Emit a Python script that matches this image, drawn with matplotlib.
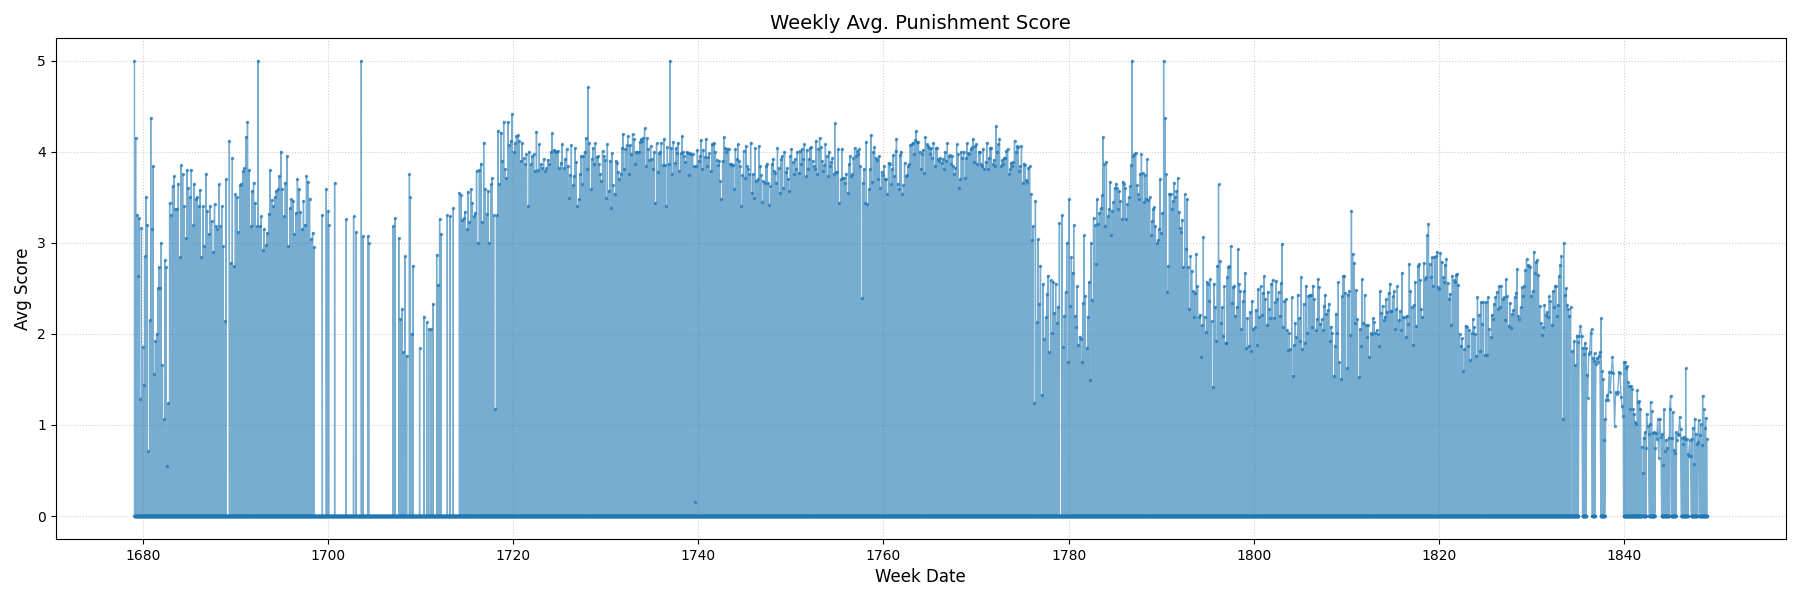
import numpy as np
import matplotlib.pyplot as plt

# dense session blocks: (first year, last year) and the weekly avg scores read along each
span_1679 = (1679.1, 1682.75)
scores_1679 = [5.0, 4.15, 3.31, 2.63, 3.27, 1.29, 3.16, 1.86, 1.44, 2.85, 3.5, 3.2, 0.71, 2.15, 4.37,
               3.15, 3.84, 1.56, 1.92, 2.0, 2.5, 2.73, 2.5, 3.0, 1.66, 1.06, 2.81, 2.73, 0.55, 1.24]

span_1683 = (1682.9, 1689.0)
scores_1683 = [3.44, 3.31, 3.62, 3.73, 3.37, 3.37, 3.65, 2.84, 3.85, 3.75, 3.4, 3.05, 3.8, 3.6, 3.5,
               3.8, 3.19, 3.65, 3.48, 3.5, 3.4, 3.58, 2.84, 3.4, 2.96, 3.76, 3.35, 3.1, 3.4, 3.24,
               2.9, 3.43, 3.18, 3.15, 3.64, 3.18, 3.4, 2.96, 2.14, 3.7]

span_1689 = (1689.35, 1698.5)
scores_1689 = [4.12, 2.78, 3.93, 2.74, 3.53, 3.5, 3.12, 3.63, 3.65, 3.79, 3.82, 4.16, 4.33, 3.8, 3.18,
               3.57, 3.66, 3.44, 3.18, 5.0, 3.18, 3.29, 2.92, 3.15, 2.97, 3.11, 3.32, 3.8, 3.47, 3.4,
               3.5, 3.57, 3.59, 3.73, 4.0, 3.59, 3.29, 3.66, 3.95, 2.96, 3.38, 3.48, 3.46, 3.1, 3.33,
               3.7, 3.59, 3.34, 3.15, 3.46, 3.2, 3.73, 3.67, 3.48, 3.04, 3.11, 2.95]

# scattered sessions 1699-1713
sparse_years = [1699.39, 1699.82, 1700.04, 1700.07, 1700.72, 1701.98, 1702.77, 1703.06, 1703.6,
                1703.78, 1704.32, 1704.4, 1707.05, 1707.25, 1707.65, 1707.8, 1708.0, 1708.1,
                1708.3, 1708.5, 1708.8, 1708.9, 1709.05, 1709.2, 1709.9, 1710.35, 1710.66,
                1710.88, 1711.1, 1711.34, 1711.74, 1711.88, 1712.06, 1712.2, 1712.89, 1713.18,
                1713.54]
sparse_scores = [3.3, 3.59, 3.35, 3.2, 3.66, 3.26, 3.29, 3.12, 5.0, 3.07, 3.07, 3.0, 3.18, 3.27,
                 3.05, 2.16, 2.27, 1.8, 2.85, 1.76, 3.75, 3.5, 2.0, 2.75, 1.84, 2.19, 2.13, 2.05,
                 2.05, 2.33, 2.87, 2.54, 3.26, 3.1, 3.3, 3.29, 3.38]

span_1714 = (1714.2, 1725.6)
scores_1714 = [3.55, 3.52, 3.25, 3.27, 3.34, 3.15, 3.56, 3.23, 3.59, 3.44, 3.29, 3.33, 3.79, 3.0, 3.8,
               3.87, 3.23, 4.1, 3.59, 3.32, 3.57, 3.0, 3.64, 3.71, 3.3, 1.18, 3.3, 4.23, 3.65, 4.21,
               3.9, 4.33, 3.81, 3.71, 4.33, 4.07, 4.12, 4.41, 4.0, 4.09, 4.17, 4.18, 4.12, 3.9, 4.1,
               3.93, 3.86, 3.97, 3.4, 4.0, 3.86, 3.95, 3.97, 3.79, 4.22, 3.8, 4.08, 3.86, 3.82, 3.92,
               3.79, 3.82, 3.91, 3.86, 4.0, 4.2, 4.02, 4.01, 4.0, 4.01, 3.82, 3.88, 4.08, 3.82, 3.92]

span_1726 = (1725.77, 1743.4)
scores_1726 = [4.03, 3.84, 3.49, 3.74, 4.07, 3.63, 3.73, 4.04, 3.89, 3.4, 3.48, 3.75, 3.95, 3.64, 3.95,
               4.0, 4.15, 3.81, 4.71, 4.1, 3.59, 3.92, 4.04, 3.87, 4.09, 3.94, 3.95, 3.86, 3.76, 3.68,
               4.01, 3.95, 3.91, 3.49, 4.08, 3.57, 3.9, 3.38, 3.98, 3.63, 3.54, 3.9, 3.88, 3.78, 3.7,
               3.76, 4.04, 4.19, 3.81, 4.03, 4.07, 4.17, 3.75, 4.07, 3.97, 4.19, 4.14, 3.86, 4.0, 4.0,
               4.0, 4.11, 4.14, 4.12, 4.15, 4.26, 3.84, 4.15, 4.03, 3.91, 4.06, 3.92, 3.81, 4.0, 3.44,
               4.09, 3.78, 3.98, 4.0, 4.1, 3.85, 4.14, 3.85, 3.4, 4.05, 3.87, 5.0, 4.04, 3.75, 4.11,
               3.88, 4.04, 3.98, 4.1, 3.79, 3.98, 4.17, 4.0, 3.95, 3.89, 4.0, 3.99, 3.74, 3.98, 3.97,
               3.97, 3.84, 0.15, 3.84, 4.02, 3.9, 3.95, 4.13, 3.81, 4.02, 3.94, 4.14, 3.84, 3.94, 3.98,
               3.79, 4.08, 4.08, 4.09, 4.0, 3.91, 3.85, 3.9, 3.68, 3.48, 3.9, 4.16, 4.04, 4.0, 4.03,
               4.03, 3.86]

span_1743 = (1743.5, 1761.3)
scores_1743 = [3.87, 3.85, 3.85, 3.59, 4.03, 3.92, 4.08, 3.9, 3.84, 3.4, 3.74, 4.01, 3.71, 4.06, 3.84,
               3.81, 3.75, 4.1, 3.55, 3.75, 3.49, 4.04, 3.68, 3.7, 4.06, 3.84, 3.74, 3.45, 3.68, 3.66,
               3.84, 3.87, 3.66, 3.41, 3.62, 3.86, 3.92, 3.79, 3.77, 3.66, 4.04, 3.82, 3.55, 3.92, 3.95,
               3.6, 4.0, 3.78, 3.82, 3.7, 3.57, 3.95, 4.03, 3.89, 3.75, 3.92, 3.81, 4.0, 3.77, 4.01,
               3.86, 4.03, 3.92, 4.08, 3.73, 4.02, 3.81, 3.92, 4.04, 4.05, 3.9, 3.84, 3.81, 4.12, 3.75,
               4.03, 4.15, 4.05, 3.9, 3.79, 3.85, 4.08, 3.95, 3.73, 4.0, 3.84, 3.89, 3.93, 3.76, 4.31,
               3.78, 3.78, 4.03, 3.44, 3.7, 4.03, 3.71, 3.71, 3.66, 3.76, 3.55, 3.86, 3.95, 3.73, 3.75,
               3.93, 4.04, 3.95, 4.01, 3.97, 4.03, 3.84, 2.39, 3.66, 3.81, 3.44, 4.11, 3.42, 3.59, 3.81,
               4.18, 3.67, 4.0, 4.05, 3.93, 3.91, 3.7, 3.95, 3.6, 3.78, 3.74, 3.84, 3.7, 3.7, 3.54,
               3.88, 3.86, 3.64, 3.81, 3.96, 3.73, 4.01]

span_1761 = (1761.4, 1775.9)
scores_1761 = [4.14, 3.65, 3.59, 3.96, 4.0, 3.53, 3.63, 3.88, 3.73, 3.74, 3.84, 3.86, 4.07, 4.08, 4.1,
               3.97, 4.13, 4.23, 4.11, 4.11, 4.0, 3.81, 3.97, 4.02, 3.77, 4.16, 4.08, 4.06, 4.04, 3.97,
               4.04, 3.93, 4.1, 3.84, 4.04, 4.04, 3.92, 3.9, 3.93, 3.88, 3.92, 3.81, 4.0, 3.9, 4.1,
               3.95, 3.96, 3.87, 3.95, 3.84, 3.76, 3.82, 4.08, 3.97, 3.6, 3.7, 4.0, 3.93, 4.0, 3.71,
               3.93, 4.09, 3.99, 3.97, 4.03, 4.05, 4.14, 3.89, 4.06, 4.08, 3.87, 4.0, 4.0, 3.86, 3.84,
               4.03, 3.81, 3.89, 4.1, 3.81, 3.93, 4.04, 4.04, 3.86, 3.91, 3.84, 4.28, 4.0, 4.08, 4.14,
               3.84, 3.91, 3.87, 3.93, 3.93, 4.01, 4.03, 3.76, 3.81, 3.88, 3.84, 3.89, 4.12, 4.0, 4.06,
               4.05, 3.79, 3.84, 4.06, 3.66, 3.87, 3.85, 3.69, 3.67, 3.82, 3.84, 3.54]

span_1776 = (1776.0, 1779.0)
scores_1776 = [3.03, 3.18, 1.24, 3.46, 2.13, 3.04, 2.33, 2.75, 1.33, 2.55, 1.94, 2.18, 2.44, 2.64, 1.8,
               2.59, 2.01, 2.57, 2.23, 2.55, 2.12, 2.3, 3.22]

span_1779 = (1779.28, 1796.94)
scores_1779 = [3.3, 1.86, 2.2, 2.46, 3.0, 1.69, 3.48, 2.31, 2.84, 2.67, 3.19, 2.2, 2.08, 2.52, 1.88,
               1.97, 1.94, 1.69, 2.34, 3.08, 2.42, 1.85, 2.19, 2.57, 1.49, 3.0, 2.37, 3.27, 3.19, 2.77,
               3.48, 3.21, 3.33, 3.38, 3.52, 4.16, 3.86, 3.18, 3.89, 3.29, 3.37, 3.67, 3.09, 3.35, 3.45,
               3.6, 3.65, 3.6, 3.37, 3.57, 3.46, 3.26, 3.67, 3.64, 3.6, 3.26, 3.42, 3.5, 3.62, 3.85,
               5.0, 3.95, 3.97, 3.99, 3.63, 3.53, 3.48, 3.76, 3.97, 3.77, 3.45, 3.74, 3.48, 3.92, 3.47,
               3.5, 3.08, 3.24, 3.37, 3.39, 3.18, 3.0, 3.03, 3.15, 3.7, 3.11, 3.33, 5.0, 4.37, 3.75,
               2.46, 2.75, 3.54, 3.54, 3.37, 3.46, 3.66, 3.5, 3.57, 3.71, 3.34, 3.16, 3.12, 3.25, 2.73,
               3.53, 2.93, 3.48, 2.73, 2.27, 2.85, 2.69, 2.47, 2.18, 2.45, 2.88, 2.52, 2.18, 2.21, 1.75,
               2.1, 3.06, 2.19, 2.02, 2.57, 2.55, 2.36, 2.6, 2.14, 1.42, 2.55, 2.29, 1.92, 2.75, 3.64,
               2.8, 2.12, 2.29, 1.98, 2.52, 1.9]

span_1797 = (1796.98, 1814.8)
scores_1797 = [1.9, 2.62, 2.73, 2.74, 2.96, 2.34, 2.51, 2.53, 2.2, 2.3, 2.93, 2.55, 2.47, 2.05, 2.36,
               2.47, 2.67, 1.84, 2.17, 1.87, 2.24, 1.81, 2.36, 2.05, 2.07, 2.26, 1.88, 2.49, 2.18, 2.52,
               2.21, 2.45, 2.63, 2.38, 2.1, 2.46, 2.27, 2.17, 2.55, 2.59, 2.17, 2.35, 2.58, 2.38, 2.46,
               2.2, 2.56, 2.99, 2.08, 2.36, 2.38, 2.04, 1.82, 2.01, 1.83, 2.4, 1.54, 1.88, 2.12, 1.96,
               2.43, 2.17, 1.92, 2.62, 1.83, 2.33, 1.9, 2.53, 2.01, 2.42, 2.43, 2.43, 2.07, 2.53, 2.38,
               2.04, 2.16, 2.6, 2.51, 2.11, 2.16, 2.04, 2.31, 2.43, 2.22, 2.26, 2.33, 1.92, 2.08, 2.01,
               1.54, 1.87, 2.22, 2.01, 2.57, 1.69, 1.5, 2.41, 2.63, 2.64, 2.45, 1.62, 2.43, 2.47, 1.99,
               3.35, 2.88, 2.78, 2.12, 2.48, 2.16, 1.53, 2.05, 1.87, 2.6, 2.12, 2.43, 2.1, 1.96, 2.1,
               1.75, 2.01, 2.0, 2.17, 2.13, 2.01, 2.04, 2.0, 1.87, 2.47, 2.23, 2.31, 2.15, 2.19, 2.38,
               2.24, 2.45, 2.55, 2.25]

span_1815 = (1814.85, 1832.55)
scores_1815 = [2.25, 2.41, 2.47, 2.05, 2.27, 2.52, 2.15, 2.25, 2.04, 2.67, 2.18, 2.18, 1.97, 2.2, 2.11,
               2.77, 2.47, 2.29, 1.88, 2.32, 2.57, 2.09, 2.75, 2.77, 2.59, 2.27, 2.19, 2.78, 2.6, 2.62,
               3.08, 3.21, 2.77, 2.62, 2.84, 2.53, 2.84, 2.85, 2.9, 2.51, 2.49, 2.89, 2.79, 2.62, 2.57,
               2.76, 2.82, 2.56, 2.38, 2.44, 2.1, 2.64, 2.59, 2.57, 2.65, 2.66, 2.54, 2.0, 1.87, 1.95,
               1.59, 1.83, 2.09, 2.08, 1.87, 2.04, 1.71, 2.01, 2.16, 2.08, 2.0, 1.76, 2.4, 2.21, 1.81,
               2.35, 2.11, 2.35, 1.77, 2.35, 1.77, 2.4, 2.05, 1.96, 2.21, 2.16, 2.33, 2.4, 2.46, 2.27,
               2.52, 2.3, 2.53, 2.38, 2.4, 2.15, 2.6, 2.41, 2.09, 2.34, 2.06, 2.22, 2.26, 2.4, 2.45,
               2.71, 2.2, 2.16, 2.29, 2.51, 2.42, 2.52, 2.7, 2.82, 2.76, 2.74, 2.73, 2.42, 2.47, 2.9,
               2.67, 2.79, 2.81, 2.65, 2.31, 2.12, 1.99, 2.07, 2.32, 2.21, 2.24, 2.19, 2.41, 2.36, 2.1,
               2.47, 2.3, 2.52]

span_1833 = (1832.6, 1834.2)
scores_1833 = [2.52, 2.2, 2.32, 2.63, 2.76, 2.85, 1.07, 3.0, 2.43, 2.5, 2.32, 2.27, 2.2, 2.29]

# after 1834: short runs, (first year, last year, scores)
late_runs = [
    (1834.41, 1835.03, [1.81, 1.92, 1.66, 1.98, 1.91]),
    (1835.13, 1835.39, [1.98, 2.09, 1.98]),
    (1835.53, 1835.86, [1.85, 1.78, 1.9, 1.84]),
    (1835.96, 1836.47, [1.55, 1.3, 1.78, 1.8, 2.01, 2.05]),
    (1836.58, 1836.79, [1.74, 1.7, 1.79]),
    (1836.94, 1837.37, [1.67, 1.74, 1.69, 1.76, 1.8]),
    (1837.51, 1837.87, [2.17, 1.59, 1.5, 0.83, 1.06]),
    (1838.02, 1839.89, [1.27, 1.33, 1.27, 1.58, 1.36, 1.58, 1.75, 1.57, 0.99, 1.36, 1.34, 1.36,
                        1.58, 1.57, 1.31, 1.21, 1.1]),
    (1839.96, 1841.87, [1.69, 1.69, 1.62, 1.65, 1.47, 1.43, 1.17, 1.43, 1.39, 1.17, 1.12, 1.03,
                        1.01, 1.38, 1.25, 1.26, 1.18, 0.76]),
    (1841.98, 1841.98, [0.47]),
    (1842.09, 1842.31, [0.86, 0.92, 0.75]),
    (1842.41, 1842.63, [1.12, 0.99, 0.9]),
    (1842.74, 1843.28, [1.01, 1.25, 1.15, 0.91, 0.92, 0.75]),
    (1843.39, 1843.96, [0.91, 0.85, 1.06, 0.64, 1.06, 0.87]),
    (1844.07, 1844.79, [0.9, 0.56, 1.17, 0.71, 0.84, 0.75, 0.86]),
    (1844.9, 1845.01, [1.17, 1.32]),
    (1845.12, 1845.55, [0.86, 1.14, 0.73, 0.69, 0.92]),
    (1845.66, 1846.09, [0.84, 0.9, 0.89, 1.09, 0.95]),
    (1846.2, 1846.85, [0.86, 0.79, 0.87, 0.85, 1.62, 0.85, 0.68]),
    (1846.95, 1847.17, [0.66, 0.83, 0.66]),
    (1847.28, 1847.82, [0.85, 0.97, 0.57, 1.07, 0.9, 0.79]),
    (1847.93, 1848.04, [0.81, 1.05]),
    (1848.14, 1848.9, [0.89, 1.01, 0.78, 1.32, 1.17, 0.97, 1.08, 0.85]),
]

# stretches where the empty weeks are recorded as 0
zero_spans = [(1679.1, 1835.05), (1835.5, 1835.88), (1836.55, 1836.82), (1837.48, 1837.9),
              (1839.93, 1841.9), (1842.06, 1842.33), (1842.71, 1843.3), (1844.04, 1844.82),
              (1845.09, 1845.58), (1846.17, 1846.88), (1847.25, 1847.85), (1848.11, 1848.95)]

blocks = [
    (span_1679, scores_1679), (span_1683, scores_1683), (span_1689, scores_1689),
    (span_1714, scores_1714), (span_1726, scores_1726), (span_1743, scores_1743),
    (span_1761, scores_1761), (span_1776, scores_1776), (span_1779, scores_1779),
    (span_1797, scores_1797), (span_1815, scores_1815), (span_1833, scores_1833),
]
blocks += [((a, b), v) for a, b, v in late_runs]

xs, ys = [], []
for (a, b), vals in blocks:
    xs.extend(np.linspace(a, b, len(vals)))
    ys.extend(vals)
xs.extend(sparse_years)
ys.extend(sparse_scores)
for a, b in zero_spans:
    weeks = np.arange(a, b + 1e-9, 1 / 52)
    xs.extend(weeks)
    ys.extend(np.zeros(len(weeks)))

order = np.argsort(xs, kind='stable')
x = np.asarray(xs)[order]
y = np.asarray(ys)[order]

fig, ax = plt.subplots(figsize=(18, 6), dpi=100)
ax.plot(x, y, marker='o', markersize=1.5, linewidth=1, alpha=0.6, color='tab:blue')

ax.set_xticks(range(1680, 1841, 20))
ax.set_title('Weekly Avg. Punishment Score', fontsize=14)
ax.set_xlabel('Week Date', fontsize=12)
ax.set_ylabel('Avg Score', fontsize=12)
ax.grid(True, linestyle=':', alpha=0.6)

plt.subplots_adjust(left=0.031, right=0.992, top=0.937, bottom=0.102)
plt.savefig('out.png', dpi=100)
